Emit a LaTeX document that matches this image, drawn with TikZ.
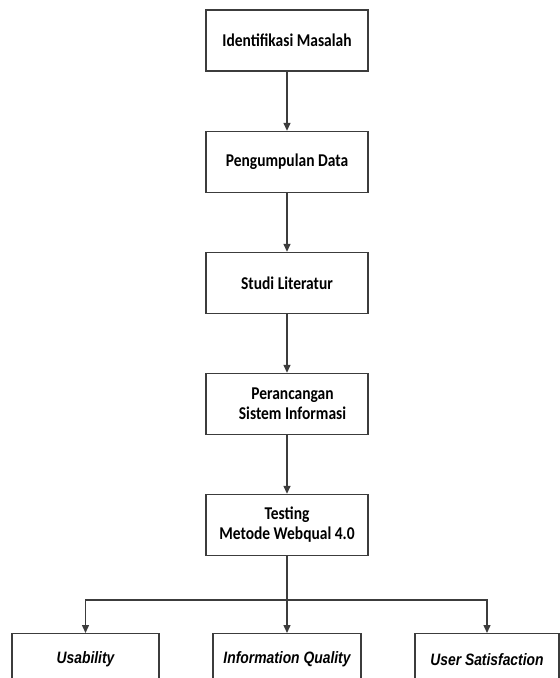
\documentclass[tikz,border=0pt]{standalone}
\usepackage{fontspec}
\setmainfont{Carlito}
\newfontfamily\stepfont[FakeStretch=0.86]{Carlito}
\newfontfamily\narrowfont[FakeStretch=0.84]{Liberation Sans}
\usetikzlibrary{arrows.meta}
\definecolor{linegray}{HTML}{3C3C3C}
\tikzset{
  stepbox/.style={draw=linegray, line width=1.4pt, fill=white, minimum width=162pt, minimum height=61pt,
    inner sep=0pt, align=center, font=\stepfont\fontsize{18}{20}\selectfont\bfseries},
  leafbox/.style={draw=linegray, line width=1.4pt, fill=white, minimum height=52pt, anchor=north,
    inner sep=0pt, font=\narrowfont\fontsize{16.5}{20}\selectfont\bfseries\itshape},
  flow/.style={draw=linegray, line width=1.4pt, -{Triangle[length=8pt,width=7pt]}},
  joint/.style={draw=linegray, line width=1.4pt}
}
\begin{document}
\begin{tikzpicture}[x=1pt,y=-1pt]
  \useasboundingbox (0,0) rectangle (560,678);
  \clip (0,0) rectangle (560,678);
  \node[stepbox] (b1) at (287,40.5) {Identifikasi Masalah};
  \node[stepbox] (b2) at (287,162) {Pengumpulan Data};
  \node[stepbox] (b3) at (287,283) {Studi Literatur};
  \node[stepbox] (b4) at (287,404) {\hspace*{11pt}Perancangan\\\hspace*{11pt}Sistem Informasi};
  \node[stepbox] (b5) at (287,525) {Testing\\Metode Webqual 4.0};
  \node[leafbox, minimum width=147pt] (u) at (85.5,633) {Usability};
  \node[leafbox, minimum width=148pt] (q) at (287,633) {Information Quality};
  \node[leafbox, minimum width=144pt] (s) at (487,633) {User Satisfaction};
  \coordinate (split) at (287,600);
  \draw[flow] (b1) -- (b2);
  \draw[flow] (b2) -- (b3);
  \draw[flow] (b3) -- (b4);
  \draw[flow] (b4) -- (b5);
  \draw[flow] (b5) -- (q);
  \draw[flow] (split) -| (u.north);
  \draw[flow] (split) -| (s.north);
\end{tikzpicture}
\end{document}
